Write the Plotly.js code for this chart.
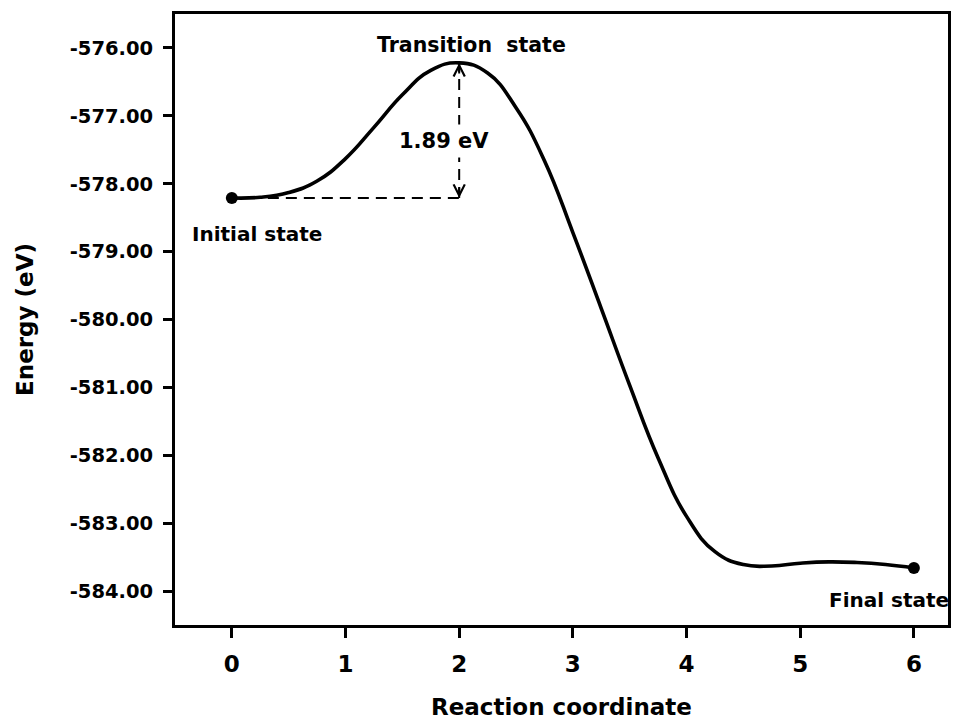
<!DOCTYPE html>
<html>
<head>
<meta charset="utf-8">
<script src="https://cdn.plot.ly/plotly-3.0.1.min.js"></script>
<style>
  html, body { margin: 0; padding: 0; background: #fff; }
  #chart { width: 960px; height: 720px; }
</style>
</head>
<body>
<div id="chart"></div>
<script>
// Reaction path (at regular steps along the coordinate)
const reactionCoord = [0, 0.25, 0.5, 0.75, 1.0, 1.25, 1.5, 1.75, 2.0, 2.25, 2.5, 2.75, 3.0, 3.25, 3.5, 3.75, 4.0, 4.25, 4.5, 4.75, 5.0, 5.25, 5.5, 5.75, 6.0];
const energyEV = [-578.21, -578.20, -578.13, -577.96, -577.63, -577.17, -576.69, -576.33, -576.22, -576.37, -576.88, -577.66, -578.72, -579.84, -580.97, -582.04, -582.90, -583.42, -583.61, -583.63, -583.59, -583.57, -583.58, -583.61, -583.66];

// Stationary points
const stateNames = ["Initial state", "Transition\u00a0 state", "Final state"];
const stateX = [0, 2, 6];
const stateE = [-578.21, -576.22, -583.66];
const barrierLabel = "1.89 eV";

// Axis ticks
const xTickVals = [0, 1, 2, 3, 4, 5, 6];
const yTickVals = [-576, -577, -578, -579, -580, -581, -582, -583, -584];
const yTickText = yTickVals.map(v => v.toFixed(2));

const FONT = "DejaVu Sans, Liberation Sans, Arial, sans-serif";

const traces = [
  {
    x: reactionCoord, y: energyEV, type: "scatter", mode: "lines",
    line: { color: "#000", width: 3.6, shape: "spline", smoothing: 1.3 },
    hoverinfo: "skip", showlegend: false
  },
  {
    x: [stateX[0], stateX[2]], y: [stateE[0], stateE[2]],
    type: "scatter", mode: "markers",
    marker: { color: "#000", size: 12 },
    hoverinfo: "skip", showlegend: false
  }
];

const layout = {
  width: 960, height: 720,
  margin: { l: 175, r: 12, t: 14, b: 95 },
  paper_bgcolor: "#fff", plot_bgcolor: "#fff",
  font: { family: FONT, color: "#000" },
  showlegend: false,
  xaxis: {
    range: [-0.5, 6.3],
    tickvals: xTickVals,
    ticks: "outside", ticklen: 10, tickwidth: 3, tickcolor: "#000",
    showline: true, linewidth: 3, linecolor: "#000", mirror: true,
    showgrid: false, zeroline: false,
    tickfont: { family: FONT, size: 23, weight: "bold", color: "#000" },
    ticklabelstandoff: 6,
    title: { text: "Reaction coordinate", font: { family: FONT, size: 23, weight: "bold", color: "#000" }, standoff: 25 }
  },
  yaxis: {
    range: [-584.5, -575.5],
    tickvals: yTickVals, ticktext: yTickText,
    ticks: "outside", ticklen: 9, tickwidth: 3, tickcolor: "#000",
    showline: true, linewidth: 3, linecolor: "#000", mirror: true,
    showgrid: false, zeroline: false,
    tickfont: { family: FONT, size: 19.5, weight: "bold", color: "#000" },
    ticklabelstandoff: 6,
    title: { text: "Energy (eV)", font: { family: FONT, size: 23, weight: "bold", color: "#000" }, standoff: 30 }
  },
  shapes: [
    { type: "line", xref: "x", yref: "y", x0: stateX[0], x1: stateX[1], y0: stateE[0], y1: stateE[0],
      line: { color: "#000", width: 2, dash: "11px,7px" }, layer: "below" },
    { type: "line", xref: "x", yref: "y", x0: stateX[1], x1: stateX[1], y0: stateE[0], y1: stateE[1],
      line: { color: "#000", width: 2, dash: "11px,7px" }, layer: "below" }
  ],
  annotations: [
    { x: stateX[0], y: stateE[0], xref: "x", yref: "y", text: stateNames[0], showarrow: false,
      xanchor: "left", yanchor: "top", xshift: -42, yshift: -22,
      font: { family: FONT, size: 20, weight: "bold", color: "#000" } },
    { x: stateX[1], y: stateE[1], xref: "x", yref: "y", text: stateNames[1], showarrow: false,
      xanchor: "center", yanchor: "bottom", xshift: 12, yshift: 4,
      font: { family: FONT, size: 20.5, weight: "bold", color: "#000" } },
    { x: stateX[2], y: stateE[2], xref: "x", yref: "y", text: stateNames[2], showarrow: false,
      xanchor: "right", yanchor: "top", xshift: 37, yshift: -18,
      font: { family: FONT, size: 20, weight: "bold", color: "#000" } },
    { x: stateX[1], y: (stateE[0] + stateE[1]) / 2, xref: "x", yref: "y", text: barrierLabel, showarrow: false,
      xanchor: "center", yanchor: "middle", xshift: -15, yshift: -11, bgcolor: "#fff", borderpad: 4,
      font: { family: FONT, size: 21, weight: "bold", color: "#000" } },
    { x: stateX[1], y: stateE[1], xref: "x", yref: "y", text: "", showarrow: true,
      ax: 0, ay: 12, arrowhead: 5, arrowsize: 1.1, arrowwidth: 2, arrowcolor: "#000", standoff: 0 },
    { x: stateX[1], y: stateE[0], xref: "x", yref: "y", text: "", showarrow: true,
      ax: 0, ay: -12, arrowhead: 5, arrowsize: 1.1, arrowwidth: 2, arrowcolor: "#000", standoff: 0 }
  ]
};

Plotly.newPlot("chart", traces, layout, { displayModeBar: false, staticPlot: true });
</script>
</body>
</html>
